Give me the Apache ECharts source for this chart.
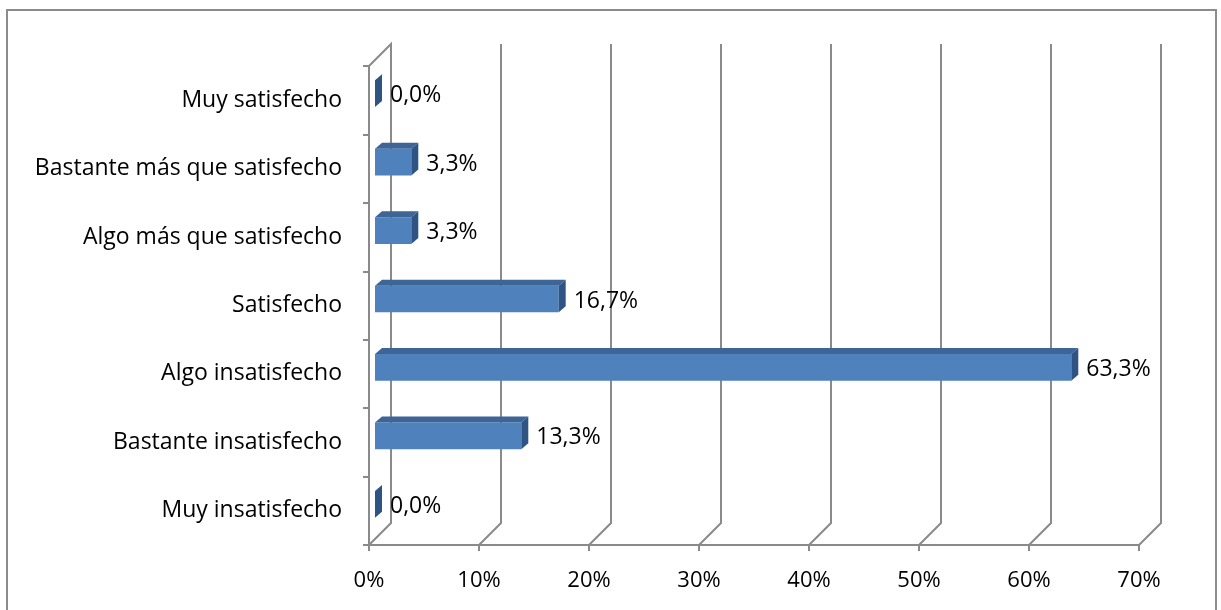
<!DOCTYPE html>
<html>
<head>
<meta charset="utf-8">
<script src="https://cdn.jsdelivr.net/npm/echarts@6/dist/echarts.min.js"></script>
<style>
  html, body { margin: 0; padding: 0; background: #fff; }
  #chart { width: 1221px; height: 610px; position: absolute; left: 0; top: 0; }
  #frame { position: absolute; left: 6px; top: 9px; width: 1211px; height: 610px;
           border: 2px solid #8c8c8c; box-sizing: border-box; pointer-events: none; }
</style>
</head>
<body>
<div id="chart"></div>
<div id="frame"></div>
<script>
// Satisfaction levels, listed from top to bottom
const categories = [
  'Muy satisfecho',
  'Bastante más que satisfecho',
  'Algo más que satisfecho',
  'Satisfecho',
  'Algo insatisfecho',
  'Bastante insatisfecho',
  'Muy insatisfecho'
];
// Share of responses (%)
const values = [0.0, 3.3, 3.3, 16.7, 63.3, 13.3, 0.0];
// Percentage axis ticks
const ticks = [0, 10, 20, 30, 40, 50, 60, 70];

const FONT = '"Open Sans", Lato, sans-serif';
const LABEL_SIZE = 23;
const TICK_SIZE = 22;
const GRID_COLOR = '#8a8a8a';
const WALL_DEPTH = 22;      // perspective offset of the back wall
const BAR_SHIFT_X = 6;      // bars sit slightly behind the front plane
const BAR_SHIFT_Y = -6.5;
const BAR_DX = 7, BAR_DY = 6; // bar thickness in depth

const chart = echarts.init(document.getElementById('chart'), null, { renderer: 'canvas' });

function fmt(v) { return v.toFixed(1).replace('.', ',') + '%'; }

// Back wall, floor and side wall lines in pseudo 3D
function renderWalls(params, api) {
  const cs = params.coordSys;
  const x = api.coord([api.value(0), 0])[0];
  const top = cs.y, bottom = cs.y + cs.height, d = WALL_DEPTH;
  let pts;
  if (api.value(0) === ticks[0]) {
    pts = [[x, top], [x + d, top - d], [x + d, bottom - d], [x, bottom]];
  } else {
    pts = [[x, bottom], [x + d, bottom - d], [x + d, top - d]];
  }
  return {
    type: 'polyline',
    shape: { points: pts },
    style: { stroke: GRID_COLOR, lineWidth: 2, fill: null }
  };
}

// 3D-looking horizontal bars with value labels
function renderBars(params, api) {
  const v = api.value(0), i = api.value(1);
  const start = api.coord([0, i]);
  const end = api.coord([v, i]);
  const band = api.size([0, 1])[1];
  const h = band * 0.39;
  const x0 = start[0] + BAR_SHIFT_X, x1 = end[0] + BAR_SHIFT_X;
  const yc = start[1] + BAR_SHIFT_Y;
  const y0 = yc - h / 2, y1 = yc + h / 2;
  const dx = BAR_DX, dy = BAR_DY;
  return {
    type: 'group',
    children: [
      { type: 'rect', shape: { x: x0, y: y0, width: x1 - x0, height: h },
        style: { fill: '#4f81bd' } },
      { type: 'polygon', shape: { points: [[x0, y0], [x0 + dx, y0 - dy], [x1 + dx, y0 - dy], [x1, y0]] },
        style: { fill: '#3d6596' } },
      { type: 'polygon', shape: { points: [[x1, y0], [x1 + dx, y0 - dy], [x1 + dx, y1 - dy], [x1, y1]] },
        style: { fill: '#2f5484' } },
      { type: 'text', x: x1 + dx + 8, y: yc + 2,
        style: { text: fmt(v), fill: '#000', font: LABEL_SIZE + 'px ' + FONT, align: 'left', verticalAlign: 'middle' } }
    ]
  };
}

chart.setOption({
  animation: false,
  grid: { left: 369, top: 66, width: 770, height: 479, containLabel: false },
  xAxis: {
    type: 'value', min: 0, max: 70, interval: 10,
    axisLine: { show: true, lineStyle: { color: GRID_COLOR, width: 2 } },
    axisTick: { show: true, length: 6, lineStyle: { color: GRID_COLOR, width: 2 } },
    splitLine: { show: false },
    axisLabel: { formatter: '{value}%', color: '#000', fontSize: TICK_SIZE, fontFamily: FONT, margin: 25 }
  },
  yAxis: {
    type: 'category', data: categories, inverse: true,
    axisLine: { show: true, lineStyle: { color: GRID_COLOR, width: 2 } },
    axisTick: { show: true, length: 6, lineStyle: { color: GRID_COLOR, width: 2 } },
    splitLine: { show: false },
    axisLabel: { color: '#000', fontSize: LABEL_SIZE, fontFamily: FONT, margin: 27 }
  },
  series: [
    { type: 'custom', name: 'walls', z: 1, silent: true,
      data: ticks.map(t => [t, 0]), encode: { x: 0, y: 1 }, renderItem: renderWalls },
    { type: 'custom', name: 'bars', z: 3,
      data: values.map((v, i) => [v, i]), encode: { x: 0, y: 1 }, renderItem: renderBars }
  ]
});
</script>
</body>
</html>
